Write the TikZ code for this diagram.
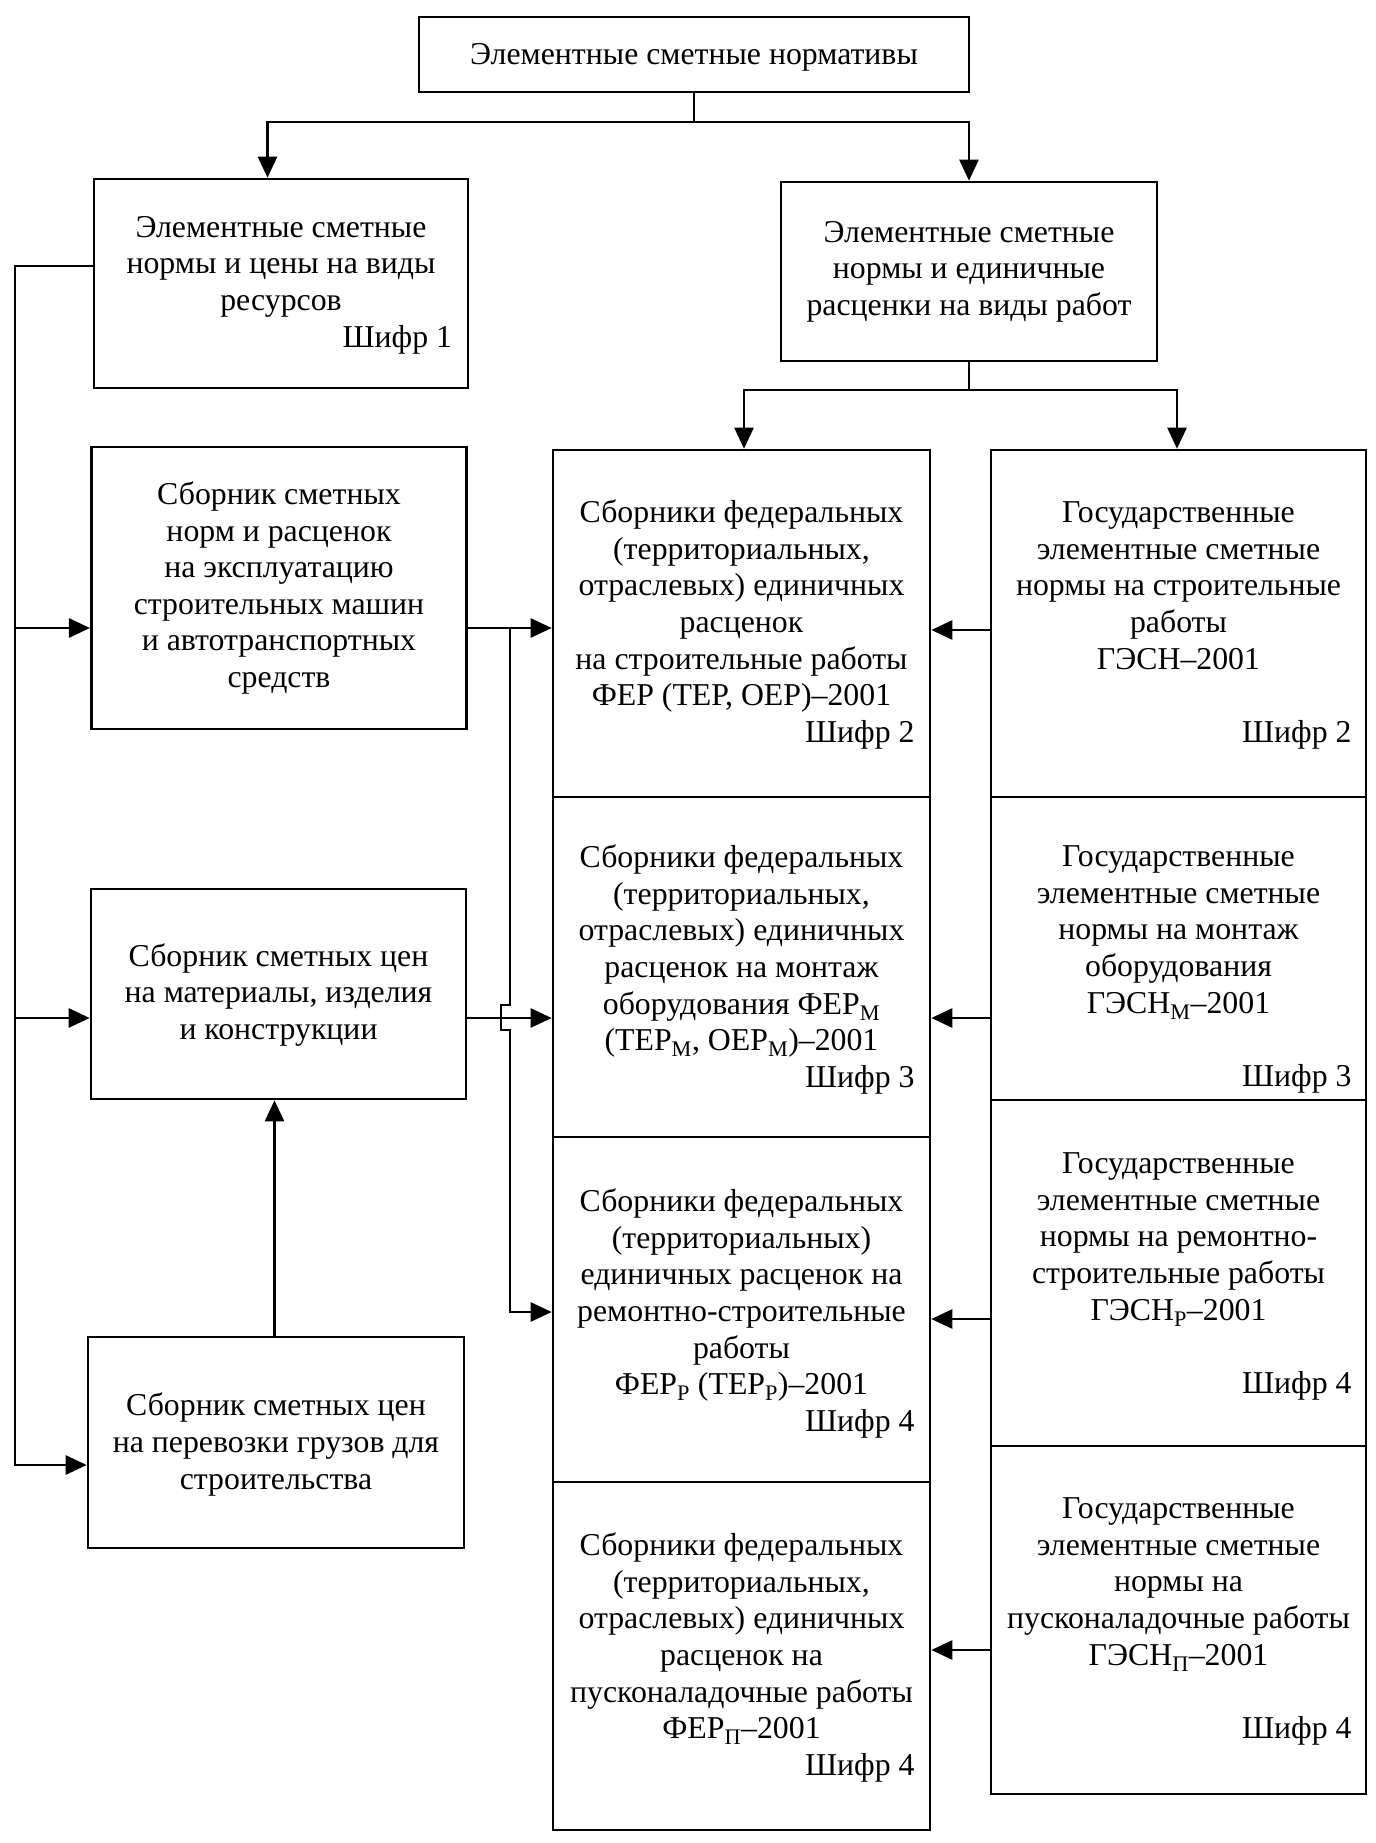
\documentclass[tikz,border=0pt]{standalone}
\usepackage{fontspec}
\setmainfont{Liberation Serif}
\usetikzlibrary{arrows.meta}
\newcommand{\sbs}[1]{\textsubscript{#1}}
\newcommand{\shifr}[1]{\makebox[346pt][r]{Шифр #1}}
\begin{document}
\begin{tikzpicture}[x=1pt,y=-1pt,
  box/.style={draw, line width=2.6pt, inner sep=0pt},
  txt/.style={align=center, inner sep=0pt, font=\fontsize{31.8}{36.6}\selectfont},
  ln/.style={line width=2.6pt},
  arr/.style={ln, -{Triangle[length=21pt,width=19pt]}}]
\useasboundingbox (0,0) rectangle (1375,1843);

% boxes
\node[box, minimum width=550pt, minimum height=75pt] (top) at (694,54.5) {};
\node[box, minimum width=374pt, minimum height=209pt] (res) at (281,283.5) {};
\node[box, minimum width=376pt, minimum height=179pt] (er) at (969,271.5) {};
\node[box, minimum width=375.5pt, minimum height=282pt] (sbn) at (279,588) {};
\node[box, minimum width=375pt, minimum height=210pt] (mat) at (278.5,994) {};
\node[box, minimum width=376pt, minimum height=211pt] (per) at (276,1442.5) {};
\node[box, minimum width=377pt, minimum height=347pt] (fer1) at (741.5,623.5) {};
\node[box, minimum width=377pt, minimum height=340pt] (fer2) at (741.5,967) {};
\node[box, minimum width=377pt, minimum height=345pt] (fer3) at (741.5,1309.5) {};
\node[box, minimum width=377pt, minimum height=348pt] (fer4) at (741.5,1656) {};
\node[box, minimum width=375pt, minimum height=347pt] (ges1) at (1178.5,623.5) {};
\node[box, minimum width=375pt, minimum height=303pt] (ges2) at (1178.5,948.5) {};
\node[box, minimum width=375pt, minimum height=346pt] (ges3) at (1178.5,1273) {};
\node[box, minimum width=375pt, minimum height=348pt] (ges4) at (1178.5,1620) {};

% texts
\node[txt] (topt) at (694,57) {Элементные сметные нормативы};
\node[txt] (rest) at (281,285) {Элементные сметные\\нормы и цены на виды\\ресурсов\\\makebox[342pt][r]{Шифр 1}};
\node[txt] (ert) at (969,271.5) {Элементные сметные\\нормы и единичные\\расценки на виды работ};
\node[txt] (sbnt) at (279,588) {Сборник сметных\\норм и расценок\\на эксплуатацию\\строительных машин\\и автотранспортных\\средств};
\node[txt] (matt) at (278.5,995) {Сборник сметных цен\\на материалы, изделия\\и конструкции};
\node[txt] (pert) at (276,1444.5) {Сборник сметных цен\\на перевозки грузов для\\строительства};
\node[txt] (fer1t) at (741.5,624.5) {Сборники федеральных\\(территориальных,\\отраслевых) единичных\\расценок\\на строительные работы\\ФЕР (ТЕР, ОЕР)–2001\\\shifr{2}};
\node[txt] (fer2t) at (741.5,969.5) {Сборники федеральных\\(территориальных,\\отраслевых) единичных\\расценок на монтаж\\оборудования ФЕР\sbs{М}\\(ТЕР\sbs{М}, ОЕР\sbs{М})–2001\\\shifr{3}};
\node[txt] (fer3t) at (741.5,1313.5) {Сборники федеральных\\(территориальных)\\единичных расценок на\\ремонтно-строительные\\работы\\ФЕР\sbs{Р} (ТЕР\sbs{Р})–2001\\\shifr{4}};
\node[txt] (fer4t) at (741.5,1657.5) {Сборники федеральных\\(территориальных,\\отраслевых) единичных\\расценок на\\пусконаладочные работы\\ФЕР\sbs{П}–2001\\\shifr{4}};
\node[txt] (ges1t) at (1178.5,625.5) {Государственные\\элементные сметные\\нормы на строительные\\работы\\ГЭСН–2001\\[36.6pt]\shifr{2}};
\node[txt] (ges2t) at (1178.5,969.5) {Государственные\\элементные сметные\\нормы на монтаж\\оборудования\\ГЭСН\sbs{М}–2001\\[36.6pt]\shifr{3}};
\node[txt] (ges3t) at (1178.5,1276.5) {Государственные\\элементные сметные\\нормы на ремонтно-\\строительные работы\\ГЭСН\sbs{Р}–2001\\[36.6pt]\shifr{4}};
\node[txt] (ges4t) at (1178.5,1621.5) {Государственные\\элементные сметные\\нормы на\\пусконаладочные работы\\ГЭСН\sbs{П}–2001\\[36.6pt]\shifr{4}};

% top splits
\coordinate (t1) at (267.5,122);
\draw[ln] (top.south) -- (top.south |- t1);
\draw[arr] (top.south |- t1) -| (res.north -| t1);
\draw[arr] (top.south |- t1) -| (er.north);

\coordinate (r1) at (744,390);
\coordinate (r2) at (1177,390);
\draw[ln] (er.south) -- (er.south |- r1);
\draw[arr] (er.south |- r1) -| (fer1.north -| r1);
\draw[arr] (er.south |- r1) -| (ges1.north -| r2);

% left bus
\coordinate (lA) at (15,266);
\coordinate (lB) at (15,1465);
\coordinate (ya) at (0,628);
\coordinate (yb) at (0,1018);
\coordinate (yc) at (0,1312);
\coordinate (xu) at (274.5,0);
\draw[arr] (res.west |- lA) -- (lA) -- (lB) -- (per.west |- lB);
\draw[arr] (lA |- ya) -- (sbn.west |- ya);
\draw[arr] (lA |- yb) -- (mat.west |- yb);
\draw[arr] (per.north -| xu) -- (mat.south -| xu);

% middle connectors
\draw[arr] (sbn.east |- ya) -- (fer1.west |- ya);
\draw[arr] (mat.east |- yb) -- (fer2.west |- yb);
\coordinate (v0) at (510,628);
\coordinate (j1) at (510,1005);
\coordinate (j2) at (501,1005);
\coordinate (j3) at (501,1030);
\coordinate (j4) at (510,1030);
\draw[arr] (v0) -- (j1) -- (j2) -- (j3) -- (j4) -- (v0 |- yc) -- (fer3.west |- yc);

% GESN -> FER
\coordinate (g1) at (0,630);
\coordinate (g2) at (0,1018);
\coordinate (g3) at (0,1319);
\coordinate (g4) at (0,1650);
\draw[arr] (ges1.west |- g1) -- (fer1.east |- g1);
\draw[arr] (ges2.west |- g2) -- (fer2.east |- g2);
\draw[arr] (ges3.west |- g3) -- (fer3.east |- g3);
\draw[arr] (ges4.west |- g4) -- (fer4.east |- g4);
\end{tikzpicture}
\end{document}
